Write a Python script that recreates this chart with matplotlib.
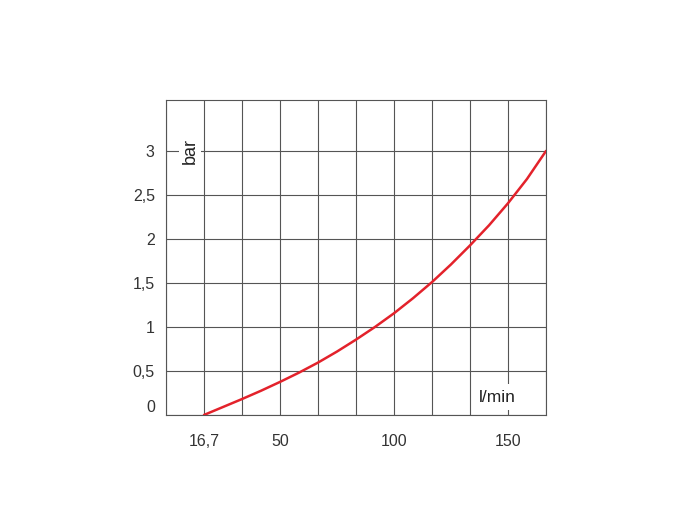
import matplotlib.pyplot as plt

plt.rcParams['font.family'] = ['Liberation Sans', 'DejaVu Sans']

# flow (l/min) vs pressure drop (bar)
flow = [16.7, 25, 33.3, 41.7, 50, 58.3, 66.7, 75, 83.3, 91.7, 100, 108.3,
        116.7, 125, 133.3, 141.7, 150, 158.3, 166.7]
pressure = [0.0, 0.09, 0.18, 0.275, 0.375, 0.48, 0.595, 0.72, 0.855, 1.0, 1.155, 1.325,
            1.51, 1.71, 1.925, 2.155, 2.405, 2.68, 3.0]

x_grid = [i * 50 / 3 for i in range(11)]
y_grid = [0, 0.5, 1, 1.5, 2, 2.5, 3]
x_ticks = [50 / 3, 50, 100, 150]
x_labels = ['16,7', '50', '100', '150']
y_labels = ['0', '0,5', '1', '1,5', '2', '2,5', '3']

fig = plt.figure(figsize=(7, 5.2), dpi=100)
ax = fig.add_axes([0.237, 0.202, 0.543, 0.606])

grid_col = '#555555'
for xv in x_grid:
    ax.axvline(xv, color=grid_col, lw=0.8, zorder=1)
for yv in y_grid:
    ax.axhline(yv, color=grid_col, lw=0.8, zorder=1)

ax.plot(flow, pressure, color='#e3222b', lw=1.8, zorder=3, solid_capstyle='round')

ax.set_xlim(0, 500 / 3)
ax.set_ylim(0, 3.58)
for s in ax.spines.values():
    s.set_color(grid_col)
    s.set_linewidth(0.8)

ax.set_xticks(x_ticks)
ax.set_xticklabels(x_labels)
ax.set_yticks(y_grid)
ax.set_yticklabels(y_labels)
ax.tick_params(length=0, labelsize=11.5, colors='#333333')
ax.tick_params(axis='x', pad=14)
ax.tick_params(axis='y', pad=8)
ax.get_yticklabels()[0].set_va('bottom')

ax.text(10.5, 3.0, 'bar', rotation=90, ha='center', va='center', fontsize=13,
        color='#222222', zorder=4,
        bbox=dict(facecolor='white', edgecolor='none', pad=2))
ax.text(145.5, 0.2, 'l/min', ha='center', va='center', fontsize=12.5,
        color='#222222', zorder=4,
        bbox=dict(facecolor='white', edgecolor='none', pad=4))

fig.savefig('out.png', dpi=100)
